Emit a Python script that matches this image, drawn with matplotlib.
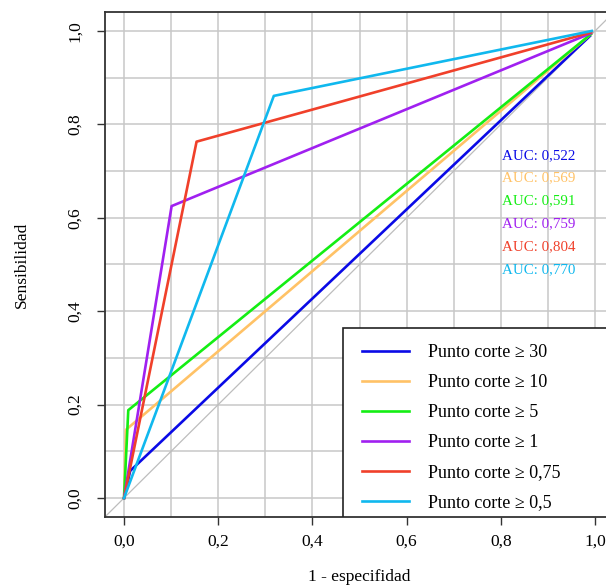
import numpy as np
import matplotlib
matplotlib.use("Agg")
import matplotlib.pyplot as plt
from matplotlib.patches import Rectangle

plt.rcParams['font.family'] = ['Liberation Serif', 'DejaVu Serif']

# ROC curves: (1 - especifidad, sensibilidad) for each cut-off
labels = ["Punto corte \u2265 30", "Punto corte \u2265 10", "Punto corte \u2265 5",
          "Punto corte \u2265 1", "Punto corte \u2265 0,75", "Punto corte \u2265 0,5"]
fpr = [[0.0, 0.013, 0.989],
       [0.0, 0.004, 0.991],
       [0.0, 0.009, 0.991],
       [0.0, 0.101, 0.991],
       [0.0, 0.154, 0.992],
       [0.0, 0.318, 0.993]]
tpr = [[0.0, 0.058, 0.989],
       [0.0, 0.146, 0.993],
       [0.0, 0.188, 0.993],
       [0.0, 0.625, 0.995],
       [0.0, 0.763, 0.997],
       [0.0, 0.861, 1.0]]
auc = ["0,522", "0,569", "0,591", "0,759", "0,804", "0,770"]
colors = ["#0a0ae6", "#ffc266", "#14ee14", "#a020f0", "#f0402a", "#10b8ee"]

fig = plt.figure(figsize=(6.06, 5.85), dpi=100)
ax = fig.add_axes([0.1736, 0.1168, 0.8394, 0.8622])

ax.set_xlim(-0.04, 1.04)
ax.set_ylim(-0.04, 1.04)

# grid every 0.1
for g in np.arange(0, 1.01, 0.1):
    ax.axvline(g, color="#c8c8c8", lw=1.1, zorder=0)
    ax.axhline(g, color="#c8c8c8", lw=1.1, zorder=0)

# reference diagonal
ax.plot([-0.05, 1.05], [-0.05, 1.05], color="#bdbdbd", lw=0.9, zorder=1)

for i in range(len(labels)):
    ax.plot(fpr[i], tpr[i], color=colors[i], lw=1.9, label=labels[i], zorder=3)

# AUC annotations
for i in range(len(auc)):
    ax.text(0.803, 0.734 - 0.049 * i, "AUC: " + auc[i], color=colors[i],
            fontsize=10.8, va="center", ha="left", zorder=4)

# legend box runs off the right side of the plot, as in the original
ax.add_patch(Rectangle((0.465, -0.04), 0.7, 0.404, facecolor="white",
                       edgecolor="#222222", lw=1.2, zorder=4))
leg = ax.legend(loc="center left", bbox_to_anchor=(0.505, 0.150),
                bbox_transform=ax.transData, fontsize=13, frameon=False,
                borderaxespad=0, borderpad=0, handlelength=2.6,
                handletextpad=1.05, labelspacing=0.72)
leg.set_zorder(5)

ticks = [0.0, 0.2, 0.4, 0.6, 0.8, 1.0]
ticklabels = ["0,0", "0,2", "0,4", "0,6", "0,8", "1,0"]
ax.set_xticks(ticks)
ax.set_xticklabels(ticklabels)
ax.set_yticks(ticks)
ax.set_yticklabels(ticklabels, rotation=90, va="center")
ax.tick_params(axis="both", labelsize=12.5, length=6, width=1.0, color="#333333")
ax.tick_params(axis="x", pad=6)
ax.tick_params(axis="y", pad=10)

for s in ax.spines.values():
    s.set_color("#333333")
    s.set_linewidth(1.3)

ax.set_xlabel("1 - especifidad", fontsize=12.5, labelpad=14)
ax.set_ylabel("Sensibilidad", fontsize=12.5, labelpad=27)

fig.savefig("out.png", dpi=100)
